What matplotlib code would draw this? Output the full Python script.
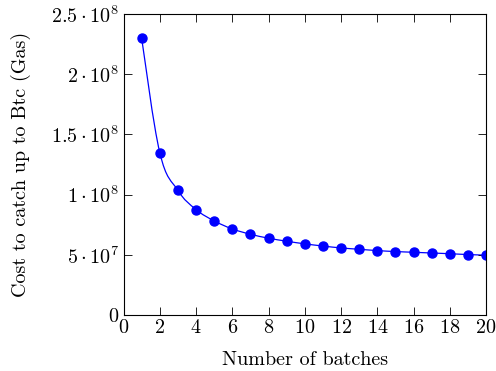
import numpy as np
import matplotlib
matplotlib.use("Agg")
import matplotlib.pyplot as plt
from matplotlib.path import Path
from matplotlib.patches import PathPatch

plt.rcParams['font.family'] = 'serif'
plt.rcParams['font.serif'] = ['cmr10']
plt.rcParams['mathtext.fontset'] = 'cm'
plt.rcParams['axes.unicode_minus'] = False

batches = np.arange(1, 21)
cost = np.array([2.30e8, 1.35e8, 1.035e8, 0.876e8, 0.782e8, 0.715e8, 0.671e8,
                 0.638e8, 0.613e8, 0.591e8, 0.573e8, 0.557e8, 0.546e8, 0.535e8,
                 0.527e8, 0.521e8, 0.515e8, 0.509e8, 0.502e8, 0.497e8])

yticks = [0, 0.5e8, 1e8, 1.5e8, 2e8, 2.5e8]
ytick_labels = [r'$0$', r'$5\cdot10^{7}$', r'$1\cdot10^{8}$', r'$1.5\cdot10^{8}$',
                r'$2\cdot10^{8}$', r'$2.5\cdot10^{8}$']
xticks = np.arange(0, 21, 2)

fig = plt.figure(figsize=(4.96, 3.71), dpi=100)
ax = fig.add_axes([0.249, 0.151, 0.731, 0.811])

# smooth curve like tikz "smooth" (bezier through the points)
t = 0.55 / 3
verts = [(batches[0], cost[0])]
codes = [Path.MOVETO]
n = len(batches)
for i in range(n - 1):
    p0 = np.array([batches[max(i - 1, 0)], cost[max(i - 1, 0)]])
    p1 = np.array([batches[i], cost[i]])
    p2 = np.array([batches[i + 1], cost[i + 1]])
    p3 = np.array([batches[min(i + 2, n - 1)], cost[min(i + 2, n - 1)]])
    c1 = p1 + (p2 - p0) * t
    c2 = p2 - (p3 - p1) * t
    verts += [tuple(c1), tuple(c2), tuple(p2)]
    codes += [Path.CURVE4] * 3
ax.add_patch(PathPatch(Path(verts, codes), facecolor='none', edgecolor='blue', lw=0.9))
ax.plot(batches, cost, linestyle='none', marker='o', color='blue', markersize=6.5)

ax.set_xlim(0, 20)
ax.set_ylim(0, 2.5e8)
ax.set_xticks(xticks)
ax.set_xticklabels([r'$%d$' % v for v in xticks])
ax.set_yticks(yticks)
ax.set_yticklabels(ytick_labels)
ax.tick_params(direction='in', length=6, width=0.6, top=True, right=True, labelsize=14.5, pad=3)
for s in ax.spines.values():
    s.set_linewidth(0.8)

ax.set_xlabel('Number of batches', fontsize=14.5, labelpad=10)
ax.set_ylabel('Cost to catch up to Btc (Gas)', fontsize=14.5, labelpad=15)

fig.savefig("out.png", dpi=100)
